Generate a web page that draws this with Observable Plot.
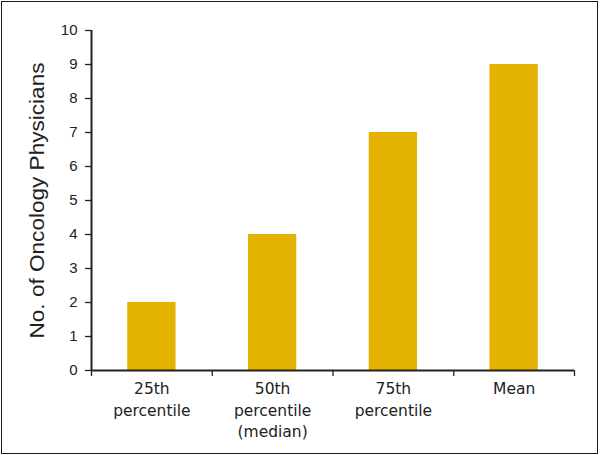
<!DOCTYPE html>
<html>
<head>
<meta charset="utf-8">
<script src="https://cdn.jsdelivr.net/npm/d3@7"></script>
<script src="https://cdn.jsdelivr.net/npm/@observablehq/plot@0.6"></script>
<style>
  html, body { margin: 0; padding: 0; background: #fff; }
  #wrap { position: relative; width: 600px; height: 455px; }
  #border { position: absolute; left: 1px; top: 1px; width: 597px; height: 453px;
            box-sizing: border-box; border: 1.5px solid #1a1a1a; pointer-events: none; }
</style>
</head>
<body>
<div id="wrap"><div id="border"></div></div>
<script>
const categories = ["25th\npercentile", "50th\npercentile\n(median)", "75th\npercentile", "Mean"];
const values = [2, 4, 7, 9];
const yTicks = [0, 1, 2, 3, 4, 5, 6, 7, 8, 9, 10];
const yLabel = "No. of Oncology Physicians";
const barColor = "#e4b200";

const rows = categories.map((c, i) => ({i, label: c, value: values[i]}));
const font = "'Liberation Sans', Arial, Helvetica, sans-serif";

const chart = Plot.plot({
  width: 600,
  height: 455,
  marginLeft: 91,
  marginRight: 26,
  marginTop: 30,
  marginBottom: 85,
  style: {fontFamily: font, fontSize: "15px", color: "#222", background: "transparent"},
  x: {domain: [0, categories.length]},
  y: {domain: [0, 10]},
  marks: [
    Plot.rectY(rows, {x1: d => d.i + 0.3, x2: d => d.i + 0.7, y: "value", fill: barColor}),
    Plot.axisY({ticks: yTicks, tickSize: 6, tickPadding: 8, label: null, fontSize: 15, stroke: "#222", strokeWidth: 1.3}),
    Plot.axisX({ticks: d3.range(categories.length + 1), tickSize: 6, tickFormat: () => "", label: null, stroke: "#222", strokeWidth: 1.3}),
    Plot.ruleY([0], {stroke: "#222", strokeWidth: 2.2}),
    Plot.ruleX([0], {stroke: "#222", strokeWidth: 2}),
    Plot.text(rows, {x: d => d.i + 0.5, y: 0, text: "label", lineAnchor: "top", dy: 8, lineHeight: 1.4, fontSize: 15.5,
      fontFamily: "'DejaVu Sans', sans-serif", fill: "#222"}),
    Plot.text([yLabel], {frameAnchor: "left", rotate: -90, dx: -54, text: d => d, fontSize: 21, textAnchor: "middle",
      fontFamily: "'Liberation Sans', Arial, sans-serif", fill: "#222", className: "ylab"})
  ]
});
document.getElementById("wrap").prepend(chart);
chart.querySelectorAll(".ylab text").forEach(t => {
  t.setAttribute("textLength", "276");
  t.setAttribute("lengthAdjust", "spacingAndGlyphs");
});
</script>
</body>
</html>
